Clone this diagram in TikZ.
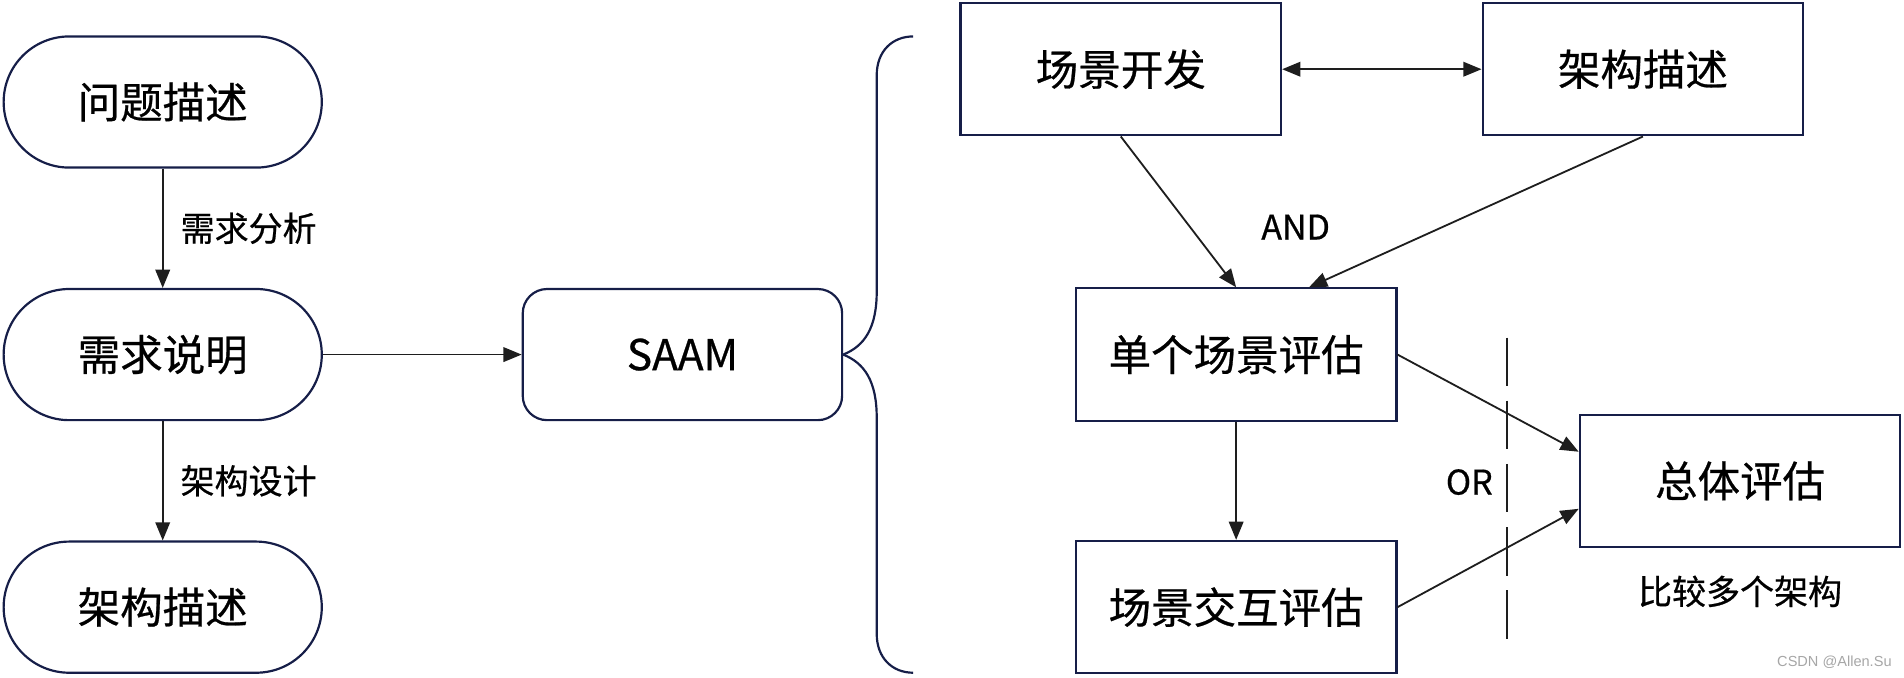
\documentclass[tikz,border=0pt]{standalone}
\usepackage{fontspec}
\setmainfont{Noto Sans CJK SC}[FakeBold=0.6]
\newfontfamily\wmfont{Liberation Sans}
\usetikzlibrary{arrows.meta}
\definecolor{navy}{RGB}{22,30,72}
\definecolor{arr}{RGB}{30,30,30}
\tikzset{
  stadium/.style={draw=navy, line width=1.8pt, rounded corners=54pt, minimum width=262pt, minimum height=108pt, inner sep=0pt, font=\fontsize{35}{40}\selectfont},
  roundbox/.style={draw=navy, line width=1.8pt, rounded corners=20pt, minimum width=263pt, minimum height=108pt, inner sep=0pt, font=\fontsize{35}{40}\selectfont},
  sqbox/.style={draw=navy, line width=1.8pt, minimum width=264pt, minimum height=109pt, inner sep=0pt, font=\fontsize{35}{40}\selectfont},
  lbl/.style={inner sep=0pt, font=\fontsize{28}{32}\selectfont},
  conn/.style={draw=arr, line width=1.5pt, -{Triangle[length=15pt,width=12pt]}},
  dconn/.style={draw=arr, line width=1.5pt, {Triangle[length=15pt,width=12pt]}-{Triangle[length=15pt,width=12pt]}},
}
\begin{document}
\begin{tikzpicture}[x=1pt,y=-1pt]
\useasboundingbox (0,0) rectangle (1568,558);
% left column
\node[stadium] (q) at (134,84) {问题描述};
\node[stadium] (r) at (134,292) {需求说明};
\node[stadium] (a) at (134,500) {架构描述};
\draw[conn] (q.south) -- node[lbl, right=14pt] (l1) {需求分析} (r.north);
\draw[conn] (r.south) -- node[lbl, right=14pt] (l2) {架构设计} (a.north);
% SAAM
\node[roundbox] (saam) at (562,292) {SAAM};
\draw[conn] (r.east) -- (saam.west);
% brace
\draw[navy, line width=1.8pt] (saam.east) .. controls (712,285) and (722,270) .. (722,240)
  -- (722,62) .. controls (722,42) and (735,30) .. (752,30);
\draw[navy, line width=1.8pt] (saam.east) .. controls (712,299) and (722,314) .. (722,344)
  -- (722,522) .. controls (722,542) and (735,554) .. (752,554);
% right part
\node[sqbox] (sd) at (923,57) {场景开发};
\node[sqbox] (ad) at (1353,57) {架构描述};
\node[sqbox] (s1) at (1018,292) {单个场景评估};
\node[sqbox] (s2) at (1018,500) {场景交互评估};
\node[sqbox] (tot) at (1433,396) {总体评估};
\draw[dconn] (sd.east) -- (ad.west);
\draw[conn] (sd.south) -- (s1.north);
\draw[conn] (ad.south) -- ([xshift=60pt]s1.north);
\node[lbl] (and) at (1067,187) {AND};
\draw[conn] (s1.south) -- (s2.north);
\draw[conn] (s1.east) -- ([yshift=24pt]tot.west);
\draw[conn] (s2.east) -- ([yshift=-23pt]tot.west);
\draw[arr, line width=1.4pt, dash pattern=on 40pt off 12pt] (1241,278) -- (1241,526);
\node[lbl] (or) at (1210,397) {OR};
\node[lbl] (cmp) at (1433,487) {比较多个架构};
\node[inner sep=0pt, anchor=east, text=gray!70, font=\wmfont\fontsize{12}{14}\selectfont] (wm) at (1558,545) {CSDN @Allen.Su};
\end{tikzpicture}
\end{document}
